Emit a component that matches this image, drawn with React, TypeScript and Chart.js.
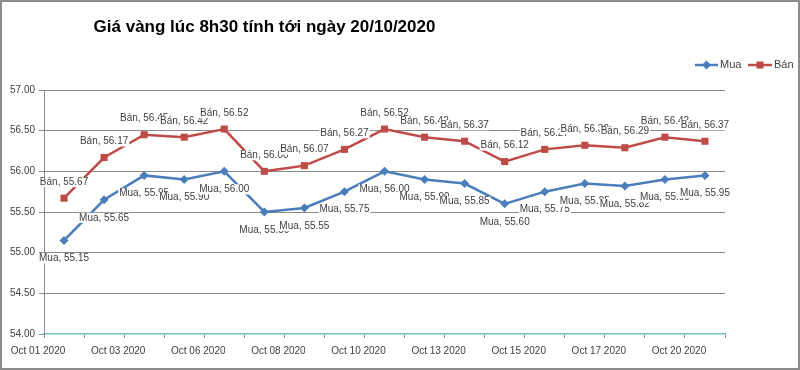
import { useEffect, useRef } from 'react';
import { Chart, registerables } from 'chart.js';

Chart.register(...registerables);

const categories = [
  'Oct 01 2020', 'Oct 02 2020', 'Oct 03 2020', 'Oct 05 2020', 'Oct 06 2020',
  'Oct 07 2020', 'Oct 08 2020', 'Oct 09 2020', 'Oct 10 2020', 'Oct 12 2020',
  'Oct 13 2020', 'Oct 14 2020', 'Oct 15 2020', 'Oct 16 2020', 'Oct 17 2020',
  'Oct 19 2020', 'Oct 20 2020',
];
const muaValues = [55.15, 55.65, 55.95, 55.9, 56.0, 55.5, 55.55, 55.75, 56.0, 55.9, 55.85, 55.6, 55.75, 55.85, 55.82, 55.9, 55.95];
const banValues = [55.67, 56.17, 56.45, 56.42, 56.52, 56.0, 56.07, 56.27, 56.52, 56.42, 56.37, 56.12, 56.27, 56.32, 56.29, 56.42, 56.37];
const seriesNames = ['Mua', 'Bán'];
const titleText = 'Giá vàng lúc 8h30 tính tới ngày 20/10/2020';
const yMin = 54;
const yMax = 57;
const yStep = 0.5;

const BLUE = '#4a7ebb';
const RED = '#be4b48';
const GRID = '#8a8a8a';
const TEXT = '#404040';
const FONT = '"Liberation Sans", Arial, sans-serif';

const framePlugin = {
  id: 'frame',
  beforeDraw(chart: any) {
    const ctx = chart.ctx;
    ctx.save();
    ctx.fillStyle = '#ffffff';
    ctx.fillRect(0, 0, chart.width, chart.height);
    ctx.restore();
  },
  afterDraw(chart: any) {
    const ctx = chart.ctx;
    ctx.save();
    ctx.strokeStyle = '#8c8c8c';
    ctx.lineWidth = 2;
    ctx.strokeRect(1, 1, chart.width - 2, chart.height - 2);
    ctx.fillStyle = '#000000';
    ctx.font = 'bold 17px ' + FONT;
    ctx.textAlign = 'center';
    ctx.textBaseline = 'alphabetic';
    ctx.fillText(titleText, 264.5, 32);
    const ly = 65;
    ctx.font = '11px ' + FONT;
    ctx.textAlign = 'left';
    ctx.textBaseline = 'middle';
    ctx.strokeStyle = BLUE;
    ctx.lineWidth = 2.5;
    ctx.beginPath();
    ctx.moveTo(695, ly);
    ctx.lineTo(718, ly);
    ctx.stroke();
    ctx.fillStyle = BLUE;
    const r = 4.5;
    ctx.beginPath();
    ctx.moveTo(706.5, ly - r);
    ctx.lineTo(706.5 + r, ly);
    ctx.lineTo(706.5, ly + r);
    ctx.lineTo(706.5 - r, ly);
    ctx.closePath();
    ctx.fill();
    ctx.fillStyle = TEXT;
    ctx.fillText(seriesNames[0], 720, ly);
    ctx.strokeStyle = RED;
    ctx.beginPath();
    ctx.moveTo(748, ly);
    ctx.lineTo(772, ly);
    ctx.stroke();
    ctx.fillStyle = RED;
    ctx.fillRect(760 - 3.5, ly - 3.5, 7, 7);
    ctx.fillStyle = TEXT;
    ctx.fillText(seriesNames[1], 774, ly);
    ctx.restore();
  },
};

const labelPlugin = {
  id: 'pointLabels',
  afterDatasetsDraw(chart: any) {
    const ctx = chart.ctx;
    ctx.save();
    ctx.font = '10px ' + FONT;
    ctx.textAlign = 'center';
    ctx.textBaseline = 'middle';
    chart.data.datasets.forEach((ds: any, di: number) => {
      const meta = chart.getDatasetMeta(di);
      const dy = di === 0 ? 18 : -16;
      meta.data.forEach((pt: any, i: number) => {
        const text = ds.label + ', ' + Number(ds.data[i]).toFixed(2);
        const w = ctx.measureText(text).width;
        const x = pt.x;
        const y = pt.y + dy;
        ctx.fillStyle = '#ffffff';
        ctx.fillRect(x - w / 2 - 1, y - 5, w + 2, 10);
        ctx.fillStyle = TEXT;
        ctx.fillText(text, x, y);
      });
    });
    ctx.restore();
  },
};

export default function App() {
  const canvasRef = useRef<HTMLCanvasElement | null>(null);

  useEffect(() => {
    if (!canvasRef.current) return;
    const chart = new Chart(canvasRef.current, {
      type: 'line',
      data: {
        labels: categories,
        datasets: [
          {
            label: seriesNames[0],
            data: muaValues,
            borderColor: BLUE,
            backgroundColor: BLUE,
            borderWidth: 2.5,
            pointStyle: 'rectRot',
            pointRadius: 4.5,
            pointBorderWidth: 0,
            pointBackgroundColor: BLUE,
            tension: 0,
          },
          {
            label: seriesNames[1],
            data: banValues,
            borderColor: RED,
            backgroundColor: RED,
            borderWidth: 2.5,
            pointStyle: 'rect',
            pointRadius: 5,
            pointBorderWidth: 0,
            pointBackgroundColor: RED,
            tension: 0,
          },
        ],
      },
      options: {
        responsive: false,
        animation: false,
        events: [],
        layout: { padding: { top: 90, right: 75, left: 0, bottom: 0 } },
        plugins: {
          legend: { display: false },
          title: { display: false },
          tooltip: { enabled: false },
        },
        scales: {
          x: {
            type: 'category',
            offset: true,
            afterFit: (scale: any) => { scale.height = 36; },
            grid: {
              offset: true,
              drawOnChartArea: false,
              drawTicks: true,
              tickLength: 4,
              color: GRID,
              tickColor: GRID,
            },
            border: { display: true, color: '#6fc4c4', width: 1.5 },
            ticks: {
              autoSkip: false,
              maxRotation: 0,
              minRotation: 0,
              labelOffset: -26,
              padding: 7,
              color: TEXT,
              font: { family: FONT, size: 10 },
              callback: (_v: any, idx: number) => (idx % 2 === 0 ? categories[idx] : ''),
            },
          },
          y: {
            min: yMin,
            max: yMax,
            afterFit: (scale: any) => { scale.width = 44; },
            grid: {
              color: (c: any) => (c.tick && c.tick.value === yMin ? 'rgba(0,0,0,0)' : GRID),
              tickColor: GRID,
              tickLength: 5,
              drawTicks: true,
            },
            border: { display: true, color: GRID, width: 1 },
            ticks: {
              stepSize: yStep,
              padding: 4,
              color: TEXT,
              font: { family: FONT, size: 10 },
              callback: (v: any) => Number(v).toFixed(2),
            },
          },
        },
      },
      plugins: [framePlugin, labelPlugin],
    });
    return () => chart.destroy();
  }, []);

  return (
    <div style={{ position: 'fixed', left: 0, top: 0, width: 800, height: 370, background: '#fff' }}>
      <canvas ref={canvasRef} width={800} height={370} style={{ display: 'block' }} />
    </div>
  );
}
